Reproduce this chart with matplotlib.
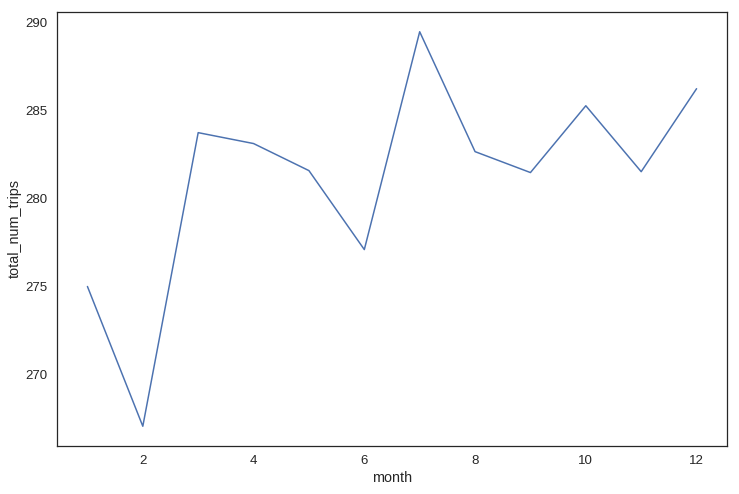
import matplotlib.pyplot as plt
import seaborn as sns

months = [1, 2, 3, 4, 5, 6, 7, 8, 9, 10, 11, 12]
total_num_trips = [275.0, 267.05, 283.75, 283.13, 281.59, 277.1,
                   289.49, 282.67, 281.48, 285.28, 281.53, 286.25]

sns.set_style("white")
sns.set_context("notebook", font_scale=1.2)
plt.rcParams['font.family'] = ['Liberation Sans', 'DejaVu Sans']

fig = plt.figure(figsize=(739 / 72, 494 / 72), dpi=72)
ax = fig.add_axes([0.0771, 0.0972, 0.9067, 0.8785])
ax.plot(months, total_num_trips, color='#4c72b0', linewidth=1.5)
ax.set_xlabel('month')
ax.set_ylabel('total_num_trips')
for s in ax.spines.values():
    s.set_color('#262626')
    s.set_linewidth(1.25)

fig.savefig('out.png', dpi=72)
